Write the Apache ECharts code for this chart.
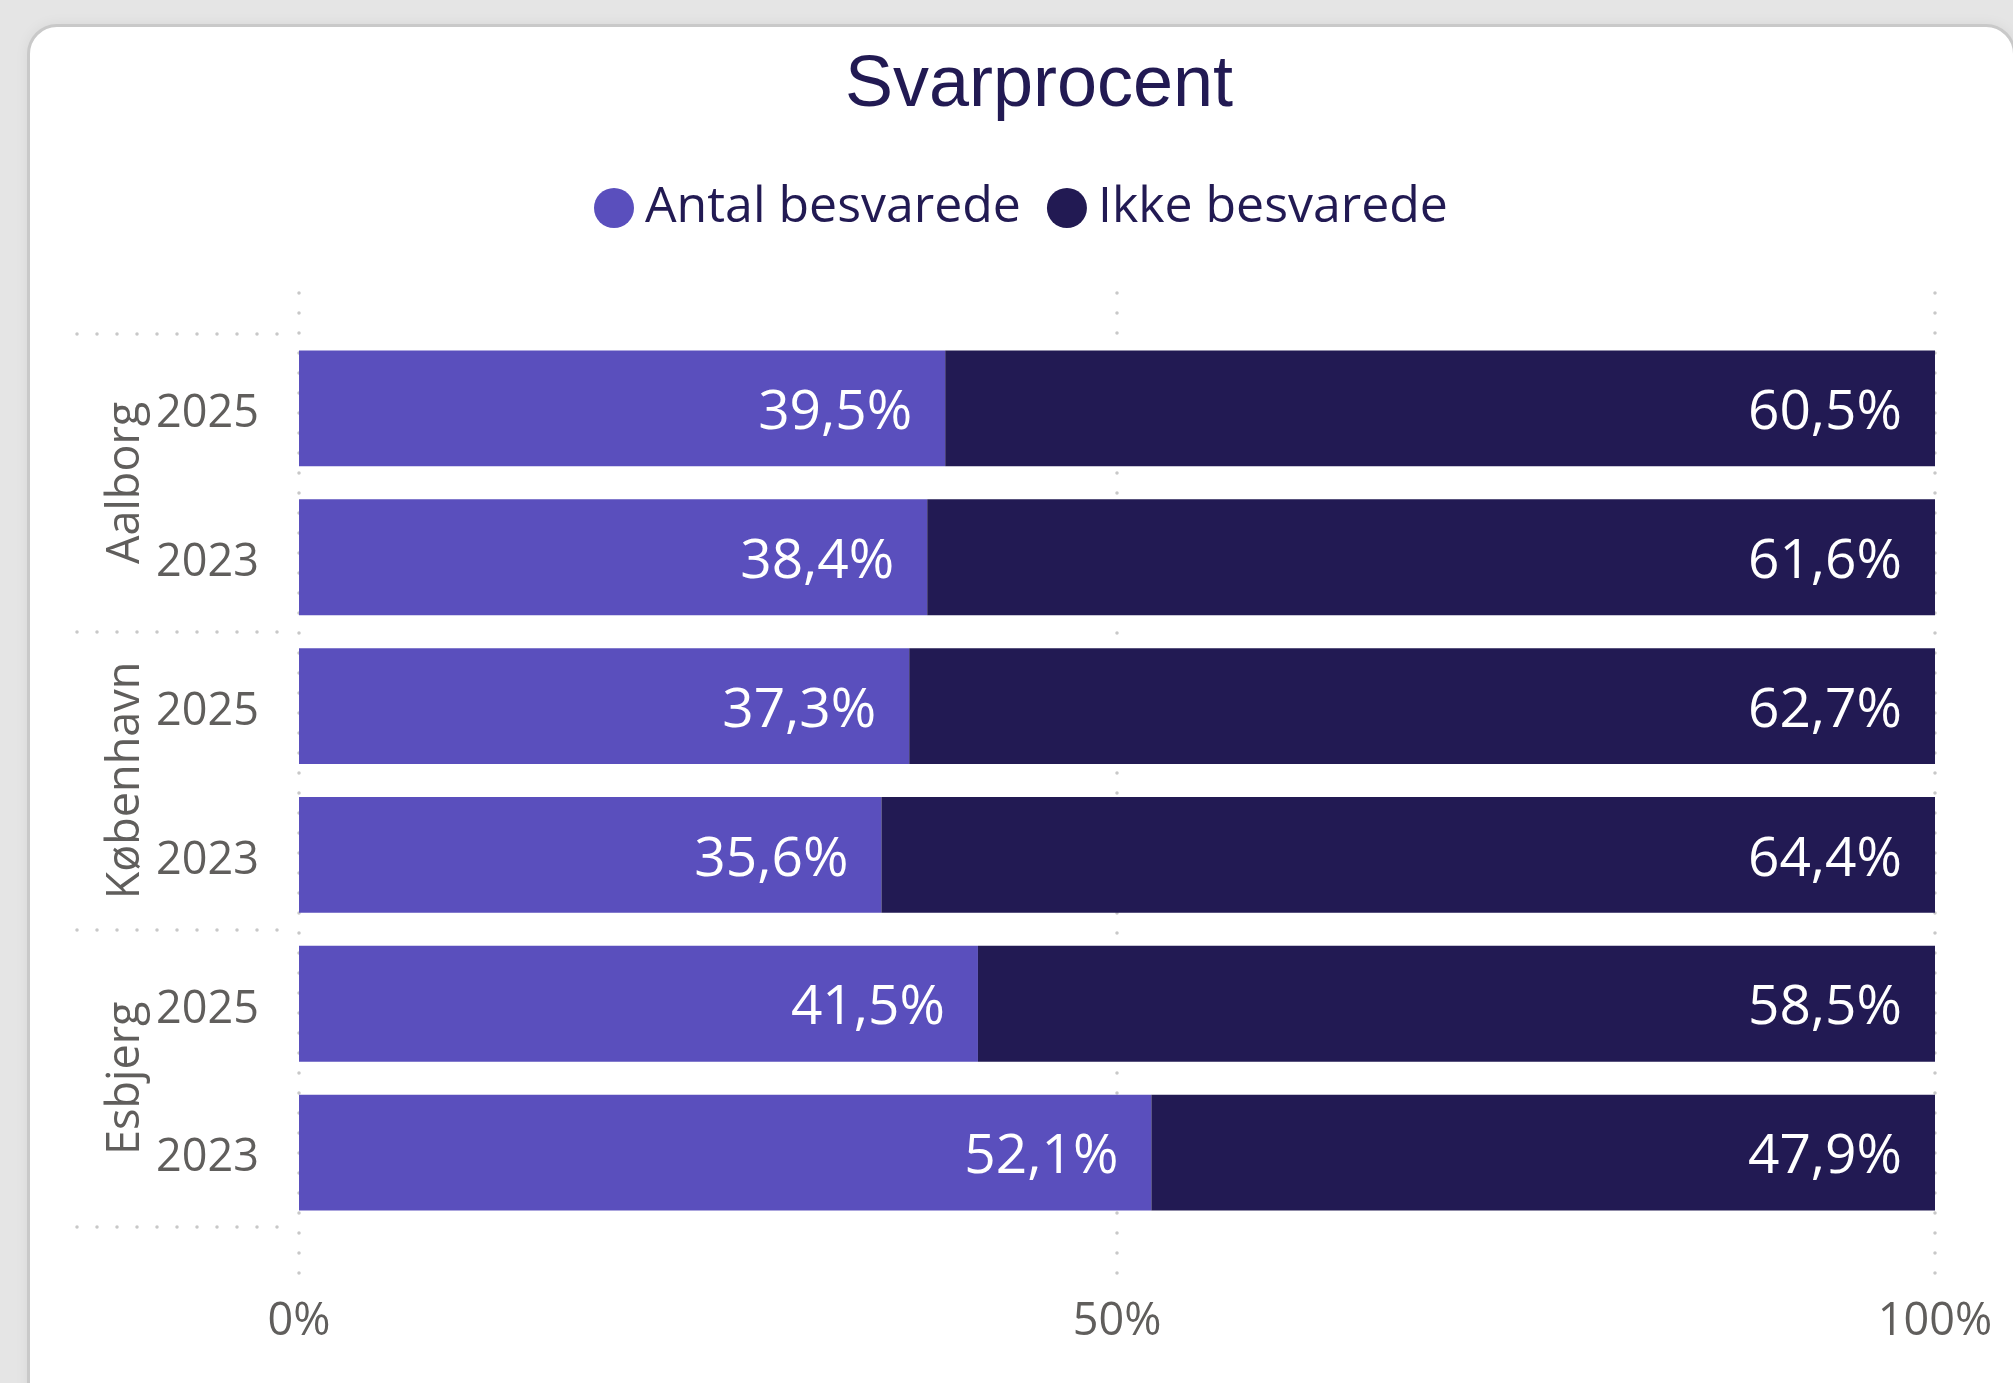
<!DOCTYPE html>
<html>
<head>
<meta charset="utf-8">
<script src="https://cdn.jsdelivr.net/npm/echarts@6/dist/echarts.min.js"></script>
<style>
  html, body { margin: 0; padding: 0; width: 2013px; height: 1383px; overflow: hidden; background: #e5e5e5; }
  #card { position: absolute; left: 27px; top: 24px; right: -3px; bottom: -40px; background: #fff;
          border: 3px solid #c9c9c9; border-radius: 30px; box-shadow: 0 0 14px rgba(0,0,0,0.06); }
  #chart { position: absolute; left: 0; top: 0; width: 2013px; height: 1383px; }
</style>
</head>
<body>
<div id="card"></div>
<div id="chart"></div>
<script>
// ---- data ----
const titleText = 'Svarprocent';
const groups = ['Aalborg', 'København', 'Esbjerg'];
const years = ['2025', '2023'];
const seriesNames = ['Antal besvarede', 'Ikke besvarede'];
const antalBesvarede = [39.5, 38.4, 37.3, 35.6, 41.5, 52.1];
const ikkeBesvarede = [60.5, 61.6, 62.7, 64.4, 58.5, 47.9];
const xTicks = [0, 50, 100];

// ---- build ----
const categories = [];
groups.forEach(g => years.forEach(y => categories.push(g + '|' + y)));

const GRAY = '#605e5c';
const NAVY = '#221a53';
const PURPLE = '#5a4fbd';
const DOT = '#c8c8c8';
const FONT = '"Open Sans", "Noto Sans", sans-serif';

const fmt = v => v.toFixed(1).replace('.', ',') + '%';

const chart = echarts.init(document.getElementById('chart'), null, { renderer: 'canvas' });

const dotted = { color: DOT, width: 3.5, type: [0.01, 19.99], cap: 'round' };

chart.setOption({
  animation: false,
  color: [PURPLE, NAVY],
  title: {
    text: titleText,
    left: 1034,
    top: 45,
    textAlign: 'center',
    textStyle: { fontFamily: '"Liberation Sans", Arial, sans-serif', fontSize: 72, fontWeight: 'normal', color: NAVY }
  },
  legend: {
    left: 589,
    top: 178,
    icon: 'circle',
    itemWidth: 40,
    itemHeight: 40,
    itemGap: 26,
    data: seriesNames,
    textStyle: { fontFamily: FONT, fontSize: 50, color: NAVY, padding: [0, 0, 0, 6] }
  },
  grid: [
    { left: 299, right: 78, top: 334, height: 893 },
    { left: 299, right: 78, top: 293, bottom: 110 },
    { left: 77, width: 200, top: 334, height: 893 }
  ],
  xAxis: [
    { gridIndex: 0, type: 'value', min: 0, max: 100, show: false },
    {
      gridIndex: 1, type: 'value', min: 0, max: 100, interval: 50,
      axisLine: { show: false }, axisTick: { show: false },
      splitLine: { show: true, lineStyle: dotted },
      axisLabel: { color: GRAY, fontFamily: FONT, fontSize: 45, margin: 27,
        formatter: v => xTicks.includes(v) ? v + '%' : '' }
    },
    { gridIndex: 2, type: 'value', show: false }
  ],
  yAxis: [
    {
      gridIndex: 0, type: 'category', inverse: true, data: categories,
      axisLine: { show: false }, axisTick: { show: false }, splitLine: { show: false },
      axisLabel: { interval: 0, color: GRAY, fontFamily: FONT, fontSize: 45, margin: 40,
        formatter: v => '{y|' + v.split('|')[1] + '}',
        rich: { y: { color: GRAY, fontFamily: FONT, fontSize: 45, padding: [12, 0, 0, 0] } } }
    },
    { gridIndex: 1, type: 'value', show: false },
    {
      gridIndex: 2, type: 'category', inverse: true, data: groups,
      axisLine: { show: false }, axisTick: { show: false, interval: 0 },
      splitLine: { show: true, interval: 0, lineStyle: dotted },
      axisLabel: { interval: 0, hideOverlap: false, inside: true, margin: 49, rotate: 90,
        align: 'center', verticalAlign: 'middle',
        color: GRAY, fontFamily: FONT, fontSize: 45 }
    }
  ],
  series: [
    {
      name: seriesNames[0], type: 'bar', stack: 'total', xAxisIndex: 0, yAxisIndex: 0,
      data: antalBesvarede, barCategoryGap: '22.2%',
      itemStyle: { color: PURPLE },
      label: { show: true, position: 'insideRight', distance: 33, offset: [0, 5], color: '#fff',
        fontFamily: FONT, fontSize: 55, formatter: p => fmt(p.value) }
    },
    {
      name: seriesNames[1], type: 'bar', stack: 'total', xAxisIndex: 0, yAxisIndex: 0,
      data: ikkeBesvarede, barCategoryGap: '22.2%',
      itemStyle: { color: NAVY },
      label: { show: true, position: 'insideRight', distance: 33, offset: [0, 5], color: '#fff',
        fontFamily: FONT, fontSize: 55, formatter: p => fmt(p.value) }
    }
  ]
});
</script>
</body>
</html>
